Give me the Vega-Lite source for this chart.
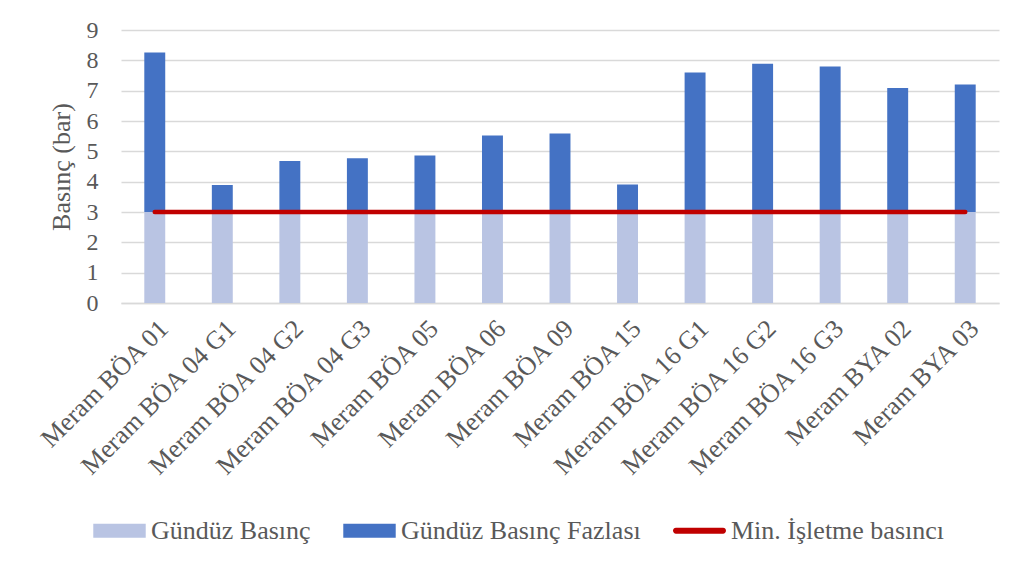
{
  "$schema": "https://vega.github.io/schema/vega-lite/v6.json",
  "width": 878,
  "height": 273,
  "autosize": "none",
  "padding": {"left": 121, "top": 30, "right": 37, "bottom": 269},
  "background": "white",
  "config": {
    "font": "Liberation Serif",
    "view": {"stroke": null},
    "axis": {"labelColor": "#595959", "titleColor": "#595959", "gridColor": "#D9D9D9", "gridWidth": 1.3, "domainColor": "#D9D9D9", "domainWidth": 1.3, "ticks": false}
  },
  "data": {
    "values": [
      {"station": "Meram BÖA 01", "base": 3, "excess": 5.26, "min": 3},
      {"station": "Meram BÖA 04 G1", "base": 3, "excess": 0.89, "min": 3},
      {"station": "Meram BÖA 04 G2", "base": 3, "excess": 1.68, "min": 3},
      {"station": "Meram BÖA 04 G3", "base": 3, "excess": 1.77, "min": 3},
      {"station": "Meram BÖA 05", "base": 3, "excess": 1.86, "min": 3},
      {"station": "Meram BÖA 06", "base": 3, "excess": 2.52, "min": 3},
      {"station": "Meram BÖA 09", "base": 3, "excess": 2.59, "min": 3},
      {"station": "Meram BÖA 15", "base": 3, "excess": 0.91, "min": 3},
      {"station": "Meram BÖA 16 G1", "base": 3, "excess": 4.60, "min": 3},
      {"station": "Meram BÖA 16 G2", "base": 3, "excess": 4.89, "min": 3},
      {"station": "Meram BÖA 16 G3", "base": 3, "excess": 4.80, "min": 3},
      {"station": "Meram BYA 02", "base": 3, "excess": 4.09, "min": 3},
      {"station": "Meram BYA 03", "base": 3, "excess": 4.20, "min": 3}
    ]
  },
  "encoding": {
    "x": {
      "field": "station",
      "type": "nominal",
      "sort": null,
      "title": null,
      "scale": {"paddingInner": 0.69, "paddingOuter": 0.345},
      "axis": {"labelAngle": -45, "labelFontSize": 26, "labelPadding": 12, "labelLimit": 0, "labelOverlap": false, "grid": false, "domain": true}
    }
  },
  "layer": [
    {
      "transform": [{"fold": ["base", "excess"], "as": ["series", "value"]}],
      "mark": {"type": "bar"},
      "encoding": {
        "y": {
          "field": "value",
          "type": "quantitative",
          "stack": "zero",
          "scale": {"domain": [0, 9], "nice": false},
          "title": "Basınç (bar)",
          "axis": {"values": [0, 1, 2, 3, 4, 5, 6, 7, 8, 9], "tickCount": 20, "format": "d", "labelOverlap": false, "labelFontSize": 24, "labelPadding": 23, "titleFontSize": 26, "titleFontWeight": "normal", "titlePadding": 12, "domain": false, "grid": true}
        },
        "color": {
          "field": "series",
          "type": "nominal",
          "scale": {"domain": ["base", "excess", "min"], "range": ["#B9C4E3", "#4472C4", "#C00000"]},
          "legend": {
            "title": null,
            "orient": "none",
            "legendX": -28,
            "legendY": 474,
            "direction": "horizontal",
            "labelFontSize": 26,
            "labelColor": "#595959",
            "labelOffset": 5,
            "labelLimit": 0,
            "columnPadding": 32,
            "labelExpr": "datum.value == 'base' ? 'Gündüz Basınç' : datum.value == 'excess' ? 'Gündüz Basınç Fazlası' : 'Min. İşletme basıncı'",
            "encode": {
              "symbols": {
                "update": {
                  "shape": {"signal": "datum.value === 'min' ? 'M-0.9,-0.11H0.9A0.11,0.11 0 0 1 0.9,0.11H-0.9A0.11,0.11 0 0 1 -0.9,-0.11Z' : 'M-1,-0.27H1V0.27H-1Z'"},
                  "size": {"value": 2750},
                  "fill": {"scale": "color", "field": "value"},
                  "fillOpacity": {"value": 1},
                  "strokeWidth": {"value": 0}
                }
              }
            }
          }
        },
        "order": {"field": "series", "sort": "ascending"}
      }
    },
    {
      "mark": {"type": "line", "strokeWidth": 4.5, "strokeCap": "round"},
      "encoding": {
        "y": {
          "field": "min",
          "type": "quantitative",
          "scale": {"domain": [0, 9], "nice": false},
          "title": "Basınç (bar)",
          "axis": {"values": [0, 1, 2, 3, 4, 5, 6, 7, 8, 9], "tickCount": 20, "format": "d", "labelOverlap": false, "labelFontSize": 24, "labelPadding": 23, "titleFontSize": 26, "titleFontWeight": "normal", "titlePadding": 12, "domain": false, "grid": true}
        },
        "color": {"datum": "min"}
      }
    }
  ]
}
